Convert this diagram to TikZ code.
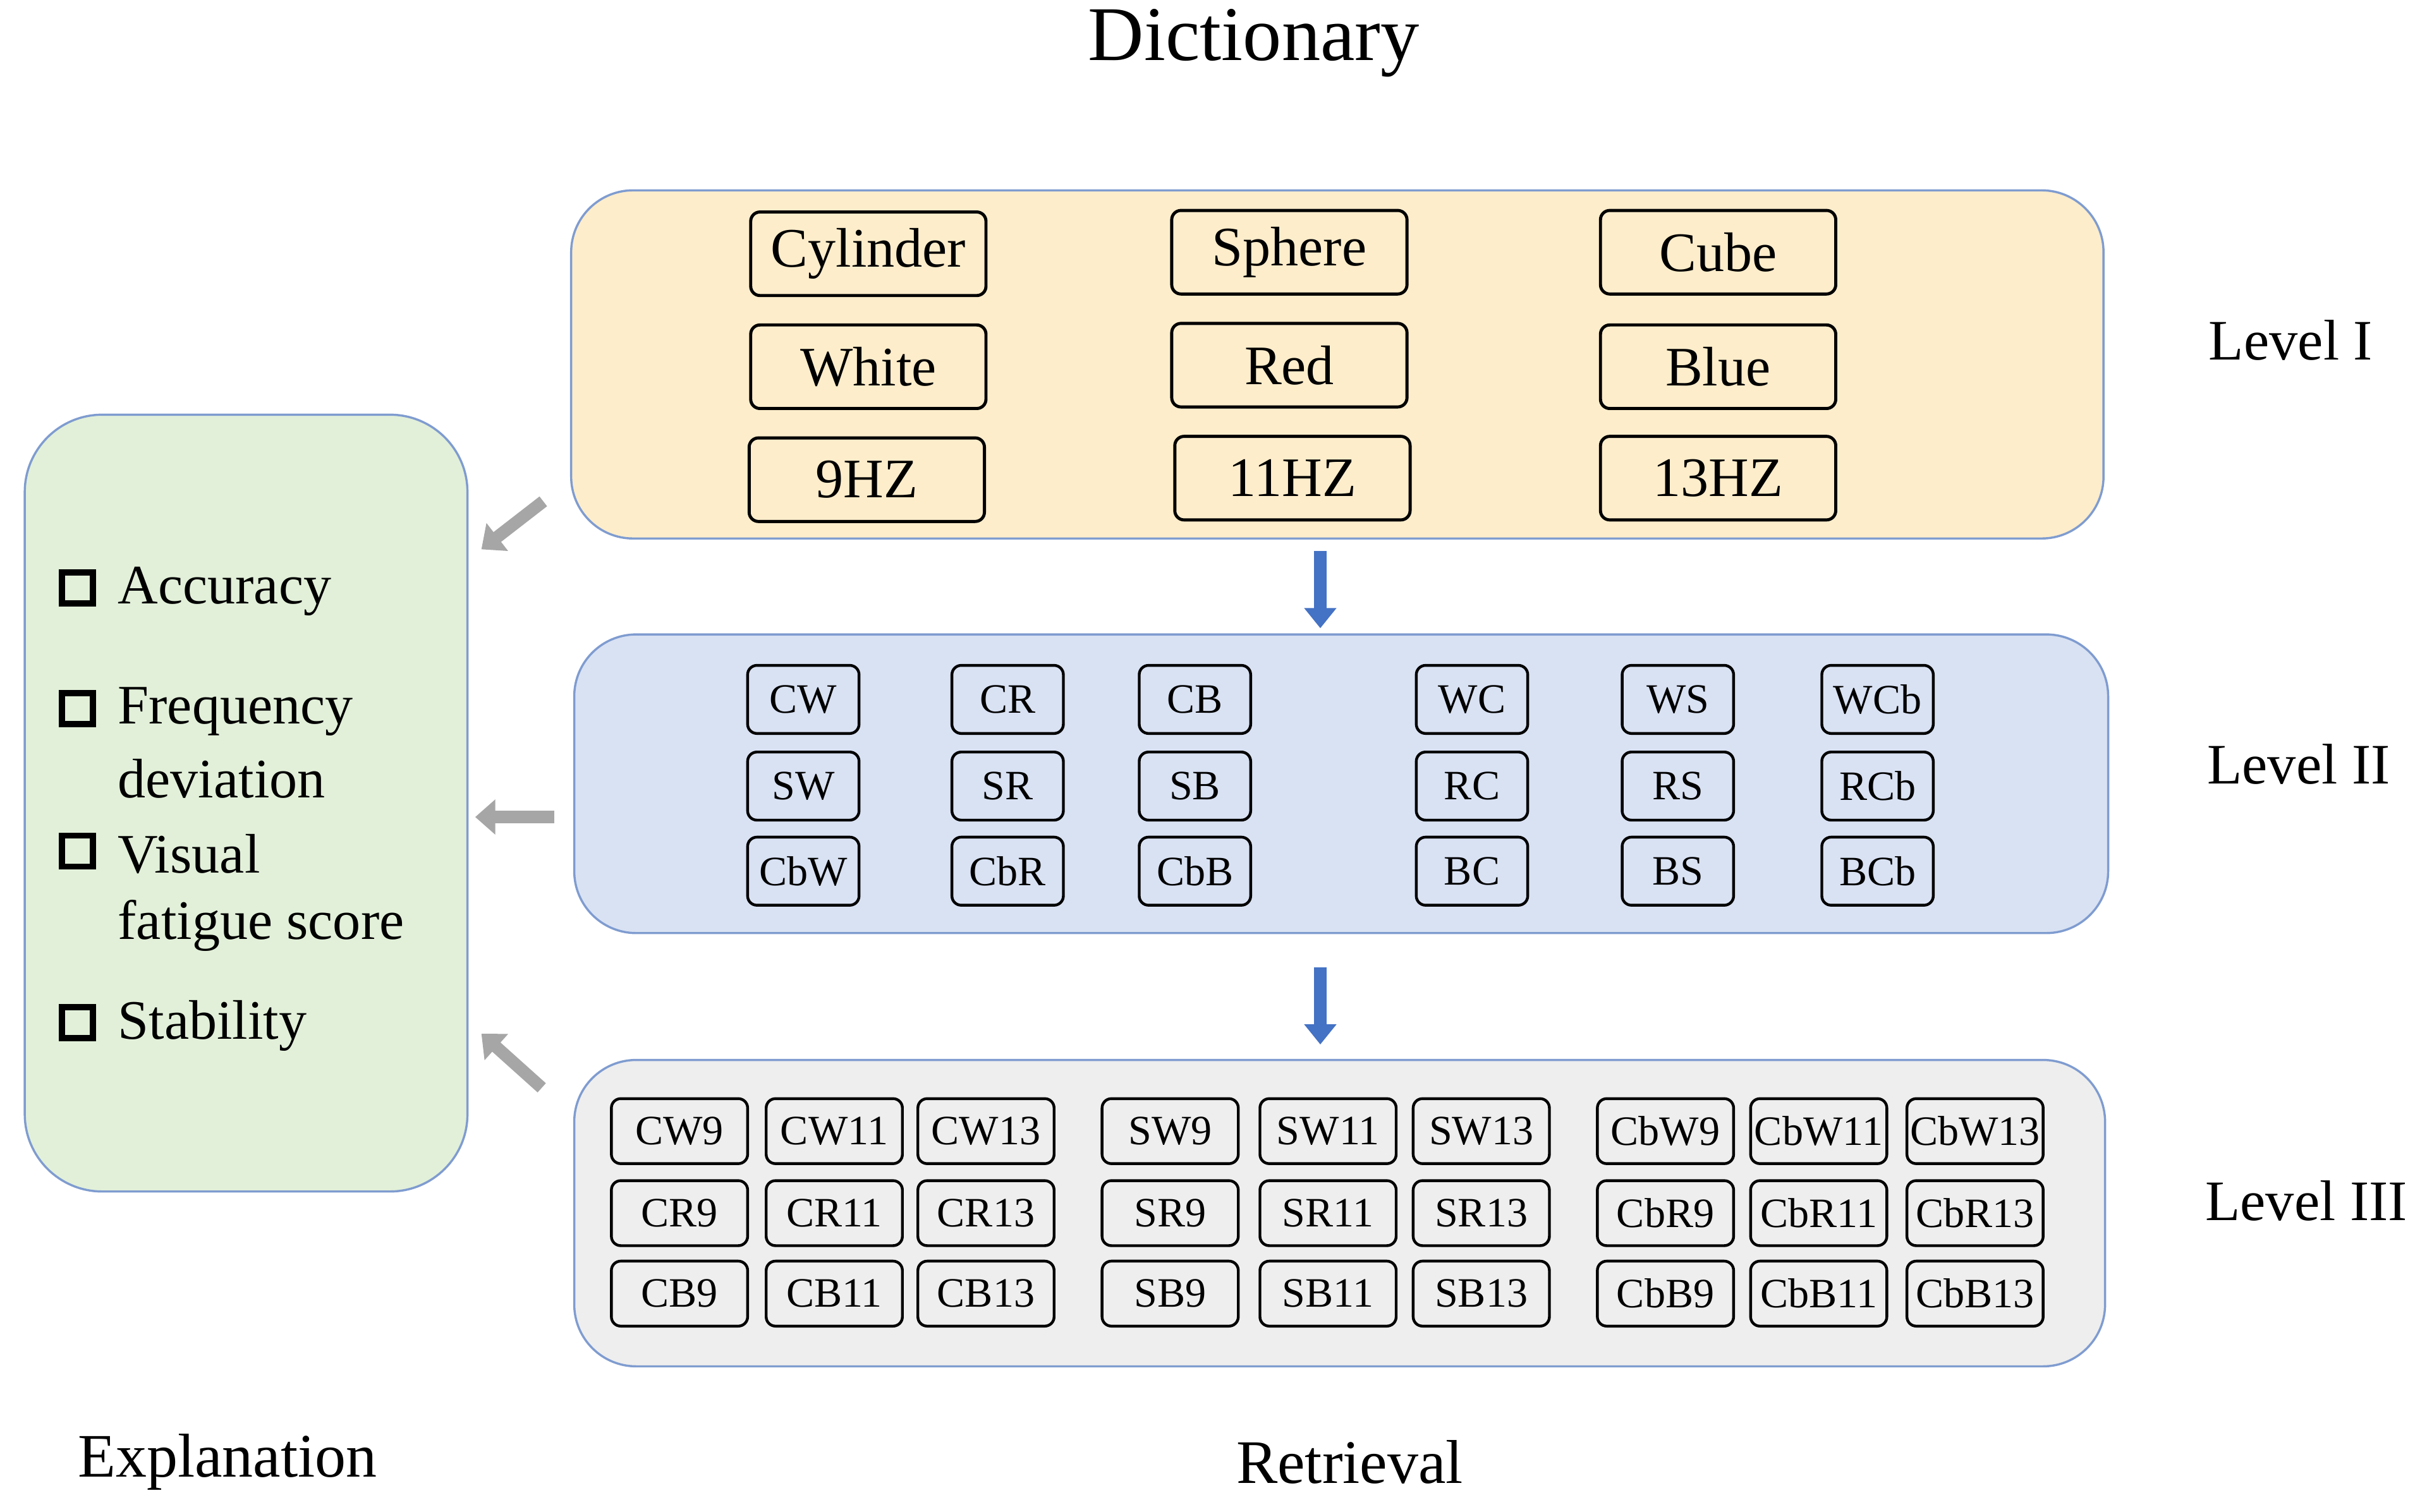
\documentclass[tikz,border=0pt]{standalone}
\usepackage{fontspec}
\setmainfont{Liberation Serif}
\usetikzlibrary{arrows.meta}
\definecolor{pb}{HTML}{7F9CD0}
\definecolor{py}{HTML}{FDEDCB}
\definecolor{pbl}{HTML}{D9E2F3}
\definecolor{pg}{HTML}{E2F0D9}
\definecolor{pgr}{HTML}{EEEEEE}
\definecolor{ab}{HTML}{4472C4}
\begin{document}
\begin{tikzpicture}[x=1pt,y=-1pt,
 panel/.style={draw=pb, line width=1.4pt, rounded corners=40pt, inner sep=0pt},
 big/.style={draw, line width=2pt, rounded corners=6pt, minimum width=152pt, minimum height=54pt, inner sep=0pt, font=\fontsize{36}{40}\selectfont},
 mid/.style={draw, line width=1.8pt, rounded corners=6pt, minimum width=72pt, minimum height=44pt, inner sep=0pt, font=\fontsize{27}{30}\selectfont},
 sml/.style={draw, line width=1.8pt, rounded corners=6pt, minimum width=88pt, minimum height=42pt, inner sep=0pt, font=\fontsize{27}{30}\selectfont},
 lab/.style={font=\fontsize{37}{40}\selectfont},
 item/.style={anchor=west, inner sep=0pt, font=\fontsize{36}{40}\selectfont},
 chk/.style={draw, line width=4pt, minimum size=20pt, inner sep=0pt},
 bar/.style={draw=ab, line width=8pt, -{Triangle[width=20pt,length=13pt]}},
 gar/.style={draw=black!35, line width=8pt, -{Triangle[width=22pt,length=13pt]}}]
\useasboundingbox (0,0) rectangle (1568,977);
\node[font=\fontsize{50}{54}\selectfont] (dict) at (810,28) {Dictionary};
% panels
\node[panel, fill=py, minimum width=990pt, minimum height=225pt] (p1) at (864,235.5) {};
\node[panel, fill=pbl, minimum width=991pt, minimum height=193pt] (p2) at (866.5,506.5) {};
\node[panel, fill=pgr, minimum width=989pt, minimum height=198pt] (p3) at (865.5,784) {};
\node[panel, fill=pg, rounded corners=50pt, minimum width=286pt, minimum height=502pt] (p0) at (159,519) {};
% level I
\node[big] (cyl) at (561,164) {Cylinder};
\node[big] (sph) at (833,163) {Sphere};
\node[big] (cub) at (1110,163) {Cube};
\node[big] (whi) at (561,237) {White};
\node[big] (red) at (833,236) {Red};
\node[big] (blu) at (1110,237) {Blue};
\node[big] (h9) at (560,310) {9HZ};
\node[big] (h11) at (835,309) {11HZ};
\node[big] (h13) at (1110,309) {13HZ};
% level II
\foreach \x/\a/\b/\c [count=\i] in {519/CW/SW/CbW,651/CR/SR/CbR,772/CB/SB/CbB,951/WC/RC/BC,1084/WS/RS/BS,1213/WCb/RCb/BCb}{
 \node[mid] (m1\i) at (\x,452) {\a};
 \node[mid] (m2\i) at (\x,508) {\b};
 \node[mid] (m3\i) at (\x,563) {\c};
}
% level III
\foreach \x/\a/\b/\c [count=\i] in {439/CW9/CR9/CB9,539/CW11/CR11/CB11,637/CW13/CR13/CB13,756/SW9/SR9/SB9,858/SW11/SR11/SB11,957/SW13/SR13/SB13,1076/CbW9/CbR9/CbB9,1175/CbW11/CbR11/CbB11,1276/CbW13/CbR13/CbB13}{
 \node[sml] (s1\i) at (\x,731) {\a};
 \node[sml] (s2\i) at (\x,784) {\b};
 \node[sml] (s3\i) at (\x,836) {\c};
}
\node[lab] (l1) at (1480,220) {Level I};
\node[lab] (l2) at (1485,494) {Level II};
\node[lab] (l3) at (1490,776) {Level III};
% blue arrows
\coordinate (a1s) at (853,356); \coordinate (a1e) at (853,406);
\coordinate (a2s) at (853,625); \coordinate (a2e) at (853,675);
\draw[bar] (a1s) -- (a1e);
\draw[bar] (a2s) -- (a2e);
% gray arrows
\coordinate (g1s) at (351,324); \coordinate (g1e) at (311,355);
\coordinate (g2s) at (358,528); \coordinate (g2e) at (307,528);
\coordinate (g3s) at (350,703); \coordinate (g3e) at (311,668);
\draw[gar] (g1s) -- (g1e);
\draw[gar] (g2s) -- (g2e);
\draw[gar] (g3s) -- (g3e);
% explanation items
\node[chk] (c1) at (50,380) {};
\node[item] (t1) at (76,382) {Accuracy};
\node[chk] (c2) at (50,458) {};
\node[item] (t2) at (76,460) {Frequency};
\node[item] (t2b) at (76,503) {deviation};
\node[chk] (c3) at (50,550) {};
\node[item] (t3) at (76,552) {Visual};
\node[item] (t3b) at (76,598) {fatigue score};
\node[chk] (c4) at (50,661) {};
\node[item] (t4) at (76,663) {Stability};
\node[font=\fontsize{40}{44}\selectfont] (ex) at (147,945) {Explanation};
\node[font=\fontsize{40}{44}\selectfont] (re) at (872,945) {Retrieval};
\end{tikzpicture}
\end{document}
